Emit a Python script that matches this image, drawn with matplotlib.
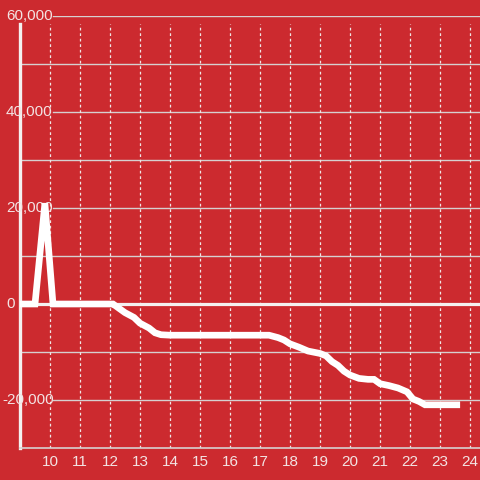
import matplotlib
matplotlib.use("Agg")
import matplotlib.pyplot as plt
from matplotlib.transforms import blended_transform_factory

# --- data (hour of day vs. value) ---
hours = [9.0, 9.5, 9.83, 10.1, 11.0, 12.0, 12.1, 12.5, 12.8, 13.0, 13.3, 13.5,
         13.7, 14.0, 15.0, 16.0, 17.0, 17.3, 17.6, 17.8, 18.0, 18.3, 18.6,
         19.0, 19.2, 19.4, 19.6, 19.8, 20.0, 20.3, 20.6, 20.8, 21.0, 21.3,
         21.6, 21.9, 22.1, 22.3, 22.5, 23.67]
values = [0, 0, 21000, 0, 0, 0, 0, -1800, -2800, -4000, -5000, -6000,
          -6400, -6500, -6500, -6500, -6500, -6500, -7000, -7500, -8300, -9000, -9800,
          -10300, -10800, -12000, -12800, -14000, -14800, -15500, -15700, -15700, -16600, -17000,
          -17500, -18300, -19800, -20300, -21000, -21000]

x_ticks = list(range(10, 25))
y_labels = [60000, 40000, 20000, 0, -20000]

RED = "#cc2a2f"
TEXT = "#f3e3e3"
GRID = "#d6d0d0"
FONT = "Liberation Sans"

fig = plt.figure(figsize=(4.8, 4.8), dpi=100, facecolor=RED)
ax = fig.add_axes([20 / 480, 32 / 480, 460 / 480, 432 / 480])
ax.set_facecolor(RED)
ax.set_xlim(9.0, 24.333)
ax.set_ylim(-30000, 60000)

# horizontal grid every 10k; labelled lines start after their label
label_gap = (53 - 20) / 460
for yv in range(-20000, 60001, 10000):
    if yv == 0:
        continue
    start = label_gap if yv in y_labels else 0.005
    ax.axhline(yv, xmin=start, color=GRID, lw=1.0, zorder=1)
ax.axhline(0, color="#f4f0f0", lw=2.3, zorder=1.5)

# vertical dotted grid
ax.vlines(x_ticks, -30000, 58300, colors="#f0e6e6", lw=0.9,
          linestyles=(0, (2.2, 2.2)), zorder=1)

# spines
for s in ["top", "right"]:
    ax.spines[s].set_visible(False)
ax.spines["left"].set_color("#f4f0f0")
ax.spines["left"].set_linewidth(2.4)
ax.spines["left"].set_bounds(-30000, 58300)
ax.spines["bottom"].set_color(GRID)
ax.spines["bottom"].set_linewidth(1.2)

ax.set_yticks([])
ax.set_xticks(x_ticks)
ax.set_xticklabels([str(t) for t in x_ticks], fontsize=11,
                   color=TEXT, family=FONT)
ax.tick_params(axis="x", length=0, pad=5)

# y labels drawn over the plot area
trans = blended_transform_factory(fig.transFigure, ax.transData)
for yv in y_labels:
    xpos = (2 if yv < 0 else 6) / 480
    ax.text(xpos, yv, f"{yv:,}", transform=trans, ha="left", va="center",
            fontsize=11, color=TEXT, family=FONT, zorder=2.6)

ax.plot(hours, values, color="white", lw=4.8, solid_joinstyle="miter",
        solid_capstyle="butt", zorder=3, clip_on=False)

fig.savefig("out.png", dpi=100, facecolor=RED)
